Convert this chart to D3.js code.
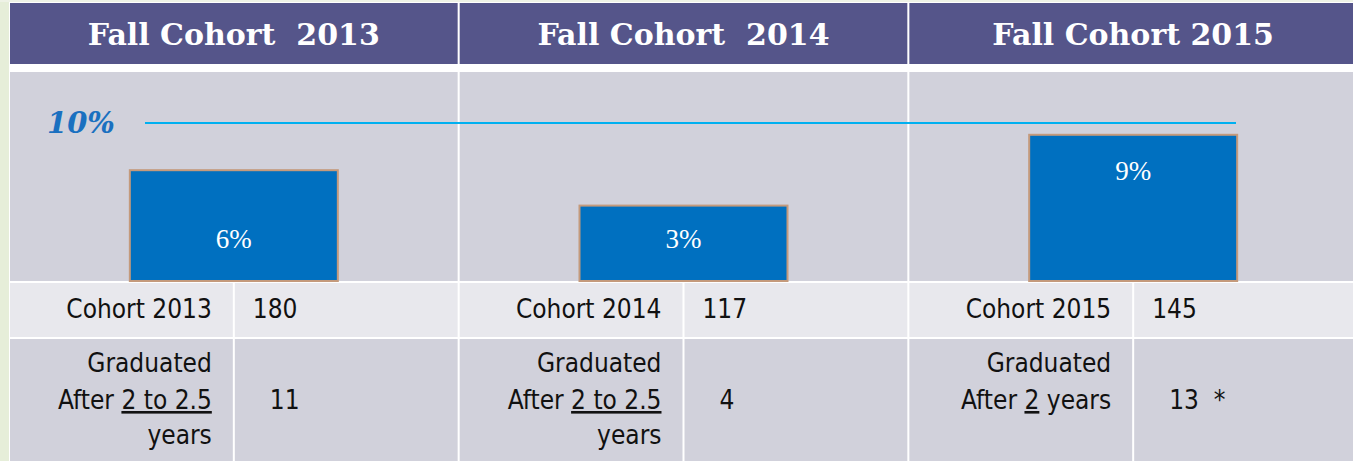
<!DOCTYPE html>
<html><head><meta charset="utf-8">
<script src="https://cdn.jsdelivr.net/npm/d3@7"></script>
<style>html,body{margin:0;padding:0;background:#fff;overflow:hidden}</style>
</head><body><svg id="c" width="1353" height="461"></svg>
<script>
// ---- data ----
const cohorts = ["Fall Cohort  2013", "Fall Cohort  2014", "Fall Cohort 2015"];
const cohortLabels = ["Cohort 2013", "Cohort 2014", "Cohort 2015"];
const cohortSizes = ["180", "117", "145"];
const gradRates = [6, 3, 9];
const rateLabels = ["6%", "3%", "9%"];
const gradCounts = ["11", "4", "13  *"];
const gradSpan = ["2 to 2.5", "2 to 2.5", "2"];
const target = 10;
const targetLabel = "10%";

// ---- layout ----
const W = 1353, H = 461;
const svg = d3.select("#c");
const purple = "#55558a", gray = "#d1d1db", light = "#e8e8ed";
const hdrTop = 3, hdrBot = 64, chartTop = 72, chartBot = 281, row1Top = 283, row1Bot = 337, row2Top = 339;

svg.append("rect").attr("width", W).attr("height", H).attr("fill", "#fff");
svg.append("rect").attr("x", 0).attr("y", 0).attr("width", 9).attr("height", H).attr("fill", "#e6eed9");
svg.append("rect").attr("x", 0).attr("y", 0).attr("width", W).attr("height", 2).attr("fill", "#eef2e6");

const x = d3.scaleBand().domain(d3.range(3)).range([10, 1357]).paddingInner(0.0045);
const bw = x.bandwidth();
const y = d3.scaleLinear().domain([0, 10]).range([241, 123]);

const col = svg.selectAll("g.col").data(d3.range(3)).join("g").attr("class", "col")
  .attr("transform", i => `translate(${x(i)},0)`);

// header
col.append("rect").attr("y", hdrTop).attr("width", bw).attr("height", hdrBot - hdrTop).attr("fill", purple);
col.append("text").attr("x", bw / 2).attr("y", 45).attr("text-anchor", "middle")
  .attr("font-family", "DejaVu Serif").attr("font-weight", "bold").attr("font-size", 30)
  .attr("fill", "#fff").style("white-space", "pre").text(i => cohorts[i]);

// chart row
col.append("rect").attr("y", chartTop).attr("width", bw).attr("height", chartBot - chartTop).attr("fill", gray);
// rows
col.append("rect").attr("y", row1Top).attr("width", bw).attr("height", row1Bot - row1Top).attr("fill", light);
col.append("rect").attr("y", row2Top).attr("width", bw).attr("height", H - row2Top).attr("fill", gray);
col.append("rect").attr("x", bw / 2 - 1).attr("y", row1Top).attr("width", 2).attr("height", H - row1Top).attr("fill", "#fff");

// target line
svg.append("line").attr("x1", 145).attr("x2", 1236).attr("y1", y(target)).attr("y2", y(target))
  .attr("stroke", "#00b0f0").attr("stroke-width", 2);
svg.append("text").attr("x", 47).attr("y", y(target) + 10).attr("font-family", "DejaVu Serif")
  .attr("font-style", "italic").attr("font-weight", "bold").attr("font-size", 29).attr("fill", "#1a70c0").text(targetLabel);

// bars
const barW = 208;
col.append("rect").attr("x", bw / 2 - barW / 2).attr("y", i => y(gradRates[i]))
  .attr("width", barW).attr("height", i => chartBot - y(gradRates[i]))
  .attr("fill", "#0070c0").attr("stroke", "#c49a7c").attr("stroke-width", 2);
col.append("text").attr("x", bw / 2).attr("text-anchor", "middle")
  .attr("y", i => i === 2 ? y(gradRates[i]) + 45 : chartBot - 33)
  .attr("font-family", "Liberation Serif").attr("font-size", 27).attr("fill", "#fff").text(i => rateLabels[i]);

// table text
const sans = "'DejaVu Sans Condensed', 'DejaVu Sans', sans-serif", fs = 26, tc = "#111";
function tx(sel) {
  return sel.attr("font-family", sans).style("font-stretch", "condensed").attr("font-size", fs).attr("fill", tc);
}
tx(col.append("text").attr("x", bw / 2 - 22).attr("y", 318).attr("text-anchor", "end")).text(i => cohortLabels[i]);
tx(col.append("text").attr("x", bw / 2 + 19).attr("y", 318)).text(i => cohortSizes[i]);
tx(col.append("text").attr("x", bw / 2 + 36).attr("y", 409).style("white-space", "pre")).text(i => gradCounts[i]);

col.each(function (i) {
  const g = d3.select(this);
  const rx = bw / 2 - 22;
  tx(g.append("text").attr("x", rx).attr("y", 372).attr("text-anchor", "end")).text("Graduated");
  const long = gradSpan[i].length > 1;
  const t = tx(g.append("text").attr("x", rx).attr("y", 409).attr("text-anchor", "end"));
  t.append("tspan").text("After ");
  t.append("tspan").style("text-decoration", "underline").text(gradSpan[i]);
  if (long) {
    tx(g.append("text").attr("x", rx).attr("y", 444).attr("text-anchor", "end")).text("years");
  } else {
    t.append("tspan").text(" years");
  }
});
</script></body></html>
